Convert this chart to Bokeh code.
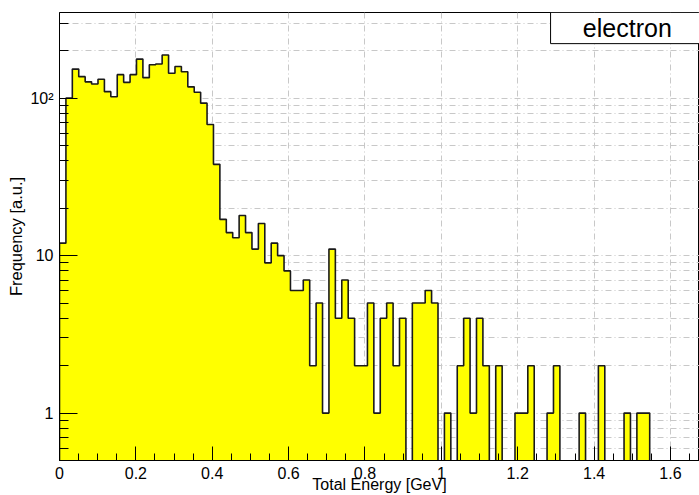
import numpy as np
from bokeh.plotting import figure
from bokeh.models import (FixedTicker, SingleIntervalTicker, CustomJSTickFormatter,
                          BoxAnnotation, Label, Range1d)
from bokeh.embed import file_html
from bokeh.resources import INLINE

# Total-energy histogram for electrons: 100 equal bins on [0, 1.68] GeV
energy_min = 0.0
energy_max = 1.68
counts = [
    12, 100, 153, 137, 127, 123, 132, 110, 102, 141,
    126, 141, 177, 135, 163, 165, 188, 144, 159, 147,
    118, 109, 93, 68, 38, 17, 14, 13, 18, 14,
    11, 16, 9, 12, 10, 8, 6, 6, 7, 2,
    5, 1, 11, 4, 7, 4, 2, 2, 5, 1,
    4, 5, 2, 4, 0, 5, 5, 6, 5, 0,
    1, 0, 2, 4, 1, 4, 2, 0, 2, 0,
    0, 1, 1, 2, 0, 0, 1, 2, 0, 0,
    0, 1, 0, 0, 2, 0, 0, 0, 1, 0,
    1, 1, 0, 0, 0, 0, 0, 0, 0, 0,
]
series_name = "electron"

y_major_ticks = [1, 10, 100]
y_major_labels = ["1", "10", "10\u00b2"]
y_minor_ticks = [0.6, 0.7, 0.8, 0.9,
                 2, 3, 4, 5, 6, 7, 8, 9,
                 20, 30, 40, 50, 60, 70, 80, 90,
                 200, 300]
x_tick_step = 0.2

FONT = "Liberation Sans"
GRID = "#c8c8c8"

counts = np.asarray(counts, dtype=float)
edges = np.linspace(energy_min, energy_max, len(counts) + 1)

# step outline; empty bins drop below the visible range (log axis)
floor = 0.3
levels = np.where(counts > 0, counts, floor)
xs = np.concatenate([[edges[0]], np.column_stack([edges[:-1], edges[1:]]).ravel(), [edges[-1]]])
ys = np.concatenate([[floor], np.repeat(levels, 2), [floor]])

p = figure(width=699, height=495,
           x_range=Range1d(0, 1.676), y_range=Range1d(0.5, 350),
           y_axis_type="log", output_backend="svg", toolbar_location=None,
           min_border_left=59, min_border_right=0, min_border_top=12, min_border_bottom=35)
p.background_fill_color = "white"
p.border_fill_color = "white"
p.outline_line_color = "black"
p.outline_line_width = 1

p.patch(xs, ys, fill_color="#ffff00", line_color=None)
p.line(xs, ys, line_color="#1a1a1a", line_width=1.6)

# axes
xa = p.xaxis[0]
xa.ticker = SingleIntervalTicker(interval=x_tick_step, num_minor_ticks=4)
xa.formatter = CustomJSTickFormatter(code="return parseFloat(tick.toFixed(2)).toString();")
xa.major_tick_in = 14
xa.major_tick_out = 0
xa.minor_tick_in = 7
xa.minor_tick_out = 0
xa.major_label_standoff = 6
xa.axis_label = "Total Energy [GeV]"
xa.axis_label_text_font = FONT
xa.axis_label_text_font_size = "16px"
xa.axis_label_text_font_style = "normal"
xa.axis_label_text_color = "black"
xa.axis_label_standoff = -6

ya = p.yaxis[0]
ya.ticker = FixedTicker(ticks=y_major_ticks, minor_ticks=y_minor_ticks)
ya.formatter = CustomJSTickFormatter(
    args=dict(major_vals=y_major_ticks, major_text=y_major_labels),
    code="const i = major_vals.indexOf(tick); return i >= 0 ? major_text[i] : '';")
ya.major_tick_in = 18
ya.major_tick_out = 0
ya.minor_tick_in = 9
ya.minor_tick_out = 0
ya.major_label_standoff = 6
ya.axis_label = "Frequency [a.u.]"
ya.axis_label_text_font = FONT
ya.axis_label_text_font_size = "16.5px"
ya.axis_label_text_font_style = "normal"
ya.axis_label_text_color = "black"
ya.axis_label_standoff = 2

for ax in (xa, ya):
    ax.axis_line_color = "black"
    ax.major_tick_line_color = "black"
    ax.minor_tick_line_color = "black"
    ax.major_label_text_font = FONT
    ax.major_label_text_font_size = "16px"
    ax.major_label_text_color = "black"

# grid: dash-dot, on major x ticks and on all y ticks
p.xgrid.grid_line_color = GRID
p.xgrid.grid_line_dash = "6 3 1 3"
p.ygrid.grid_line_color = GRID
p.ygrid.grid_line_dash = "6 3 1 3"
p.ygrid.minor_grid_line_color = GRID
p.ygrid.minor_grid_line_dash = "6 3 1 3"

# legend box in the top-right corner
p.add_layout(BoxAnnotation(left=1.286, right=1.9, bottom=222, top=350,
                           fill_color="white", fill_alpha=1.0,
                           line_color="black", line_width=1, line_alpha=1.0))
p.add_layout(Label(x=1.487, y=278, text=series_name, text_align="center",
                   text_baseline="middle", text_font=FONT,
                   text_font_size="25px", text_color="black"))

open("out.html", "w").write(file_html(p, INLINE))
